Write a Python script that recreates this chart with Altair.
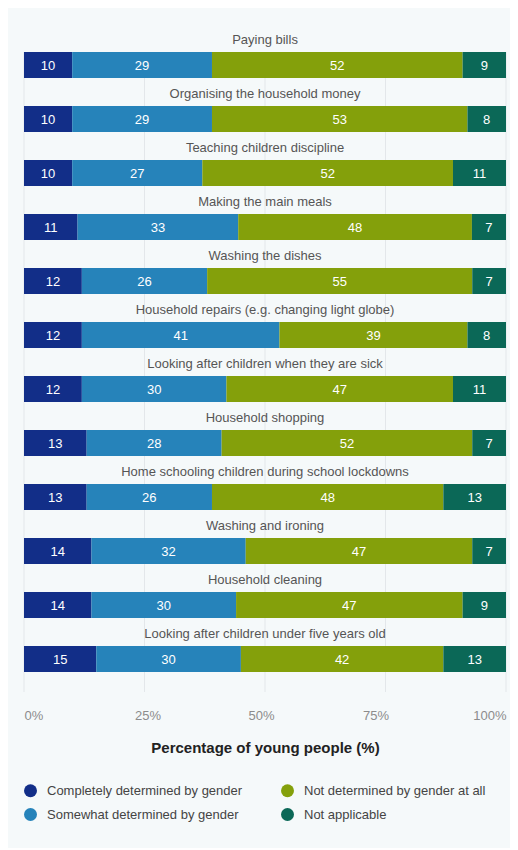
import altair as alt
import pandas as pd

tasks = [
    "Paying bills",
    "Organising the household money",
    "Teaching children discipline",
    "Making the main meals",
    "Washing the dishes",
    "Household repairs (e.g. changing light globe)",
    "Looking after children when they are sick",
    "Household shopping",
    "Home schooling children during school lockdowns",
    "Washing and ironing",
    "Household cleaning",
    "Looking after children under five years old",
]
completely = [10, 10, 10, 11, 12, 12, 12, 13, 13, 14, 14, 15]
somewhat = [29, 29, 27, 33, 26, 41, 30, 28, 26, 32, 30, 30]
not_at_all = [52, 53, 52, 48, 55, 39, 47, 52, 48, 47, 47, 42]
not_applicable = [9, 8, 11, 7, 7, 8, 11, 7, 13, 7, 9, 13]

categories = [
    "Completely determined by gender",
    "Somewhat determined by gender",
    "Not determined by gender at all",
    "Not applicable",
]
colors = ["#122e88", "#2683ba", "#84a00b", "#0b6857"]
tick_values = [0, 0.25, 0.5, 0.75, 1]

series = [completely, somewhat, not_at_all, not_applicable]
rows = []
for ti, t in enumerate(tasks):
    for ci, c in enumerate(categories):
        rows.append({"task": t, "category": c, "value": series[ci][ti], "order": ci})
df = pd.DataFrame(rows)

yscale = alt.Scale(domain=tasks, paddingInner=0, paddingOuter=0)
xscale = alt.Scale(domain=[0, 1], nice=False)

x_axis = alt.Axis(
    values=tick_values,
    format=".0%",
    grid=False,
    domain=False,
    ticks=False,
    labelColor="#8c8c8c",
    labelFontSize=13,
    labelPadding=37,
    labelAlign={
        "condition": [
            {"test": "datum.value <= 0", "value": "left"},
            {"test": "datum.value >= 1", "value": "right"},
        ],
        "value": "center",
    },
    labelOffset={
        "condition": [
            {"test": "datum.value == 0.25", "value": 3},
            {"test": "datum.value == 0.5", "value": -4},
            {"test": "datum.value == 0.75", "value": -10},
        ],
        "value": 0,
    },
    title="Percentage of young people (%)",
    titleFontSize=15,
    titleFontWeight="bold",
    titleColor="#222222",
    titlePadding=18,
)

base = alt.Chart(df).transform_stack(
    stack="value", groupby=["task"], as_=["x0", "x1"], offset="normalize",
    sort=[alt.SortField("order")]
)

grid = alt.Chart(pd.DataFrame({"t": tick_values})).mark_rule(
    color="#e3e7ea", strokeWidth=1
).encode(
    x=alt.X("t:Q", scale=xscale, axis=x_axis),
    y=alt.value(28),
    y2=alt.value(668),
)

bars = base.mark_bar(size=26, yOffset=14).encode(
    y=alt.Y("task:N", sort=tasks, scale=yscale, axis=None),
    x=alt.X("x0:Q", scale=xscale, axis=x_axis),
    x2="x1:Q",
    color=alt.Color(
        "category:N",
        scale=alt.Scale(domain=categories, range=colors),
        legend=alt.Legend(
            orient="none",
            legendX=0,
            legendY=760,
            columns=2,
            title=None,
            symbolType="circle",
            symbolSize=169,
            symbolStrokeWidth=0,
            symbolOpacity=1,
            labelFontSize=13,
            labelColor="#444444",
            labelOffset=10,
            labelLimit=0,
            columnPadding=38,
            rowPadding=10,
        ),
    ),
)

values = base.transform_calculate(mid="(datum.x0 + datum.x1) / 2").mark_text(
    color="white", fontSize=13, dy=15, baseline="middle"
).encode(
    y=alt.Y("task:N", sort=tasks, scale=yscale, axis=None),
    x=alt.X("mid:Q", scale=xscale, axis=x_axis),
    text=alt.Text("value:Q"),
)

labels = alt.Chart(pd.DataFrame({"task": tasks})).mark_text(
    color="#555555", fontSize=13, dy=-11, baseline="middle"
).encode(
    y=alt.Y("task:N", sort=tasks, scale=yscale, axis=None),
    x=alt.datum(0.5),
    text="task:N",
)

chart = alt.layer(grid, bars, values, labels).properties(
    width=482,
    height=648,
    background="#f5f9fa",
    padding={"left": 16, "top": 16, "right": 4, "bottom": 176},
    autosize=alt.AutoSizeParams(type="none"),
).configure(font="Liberation Sans").configure_view(stroke=None)

chart.save("out.html", embed_options={"renderer": "svg", "actions": False})
